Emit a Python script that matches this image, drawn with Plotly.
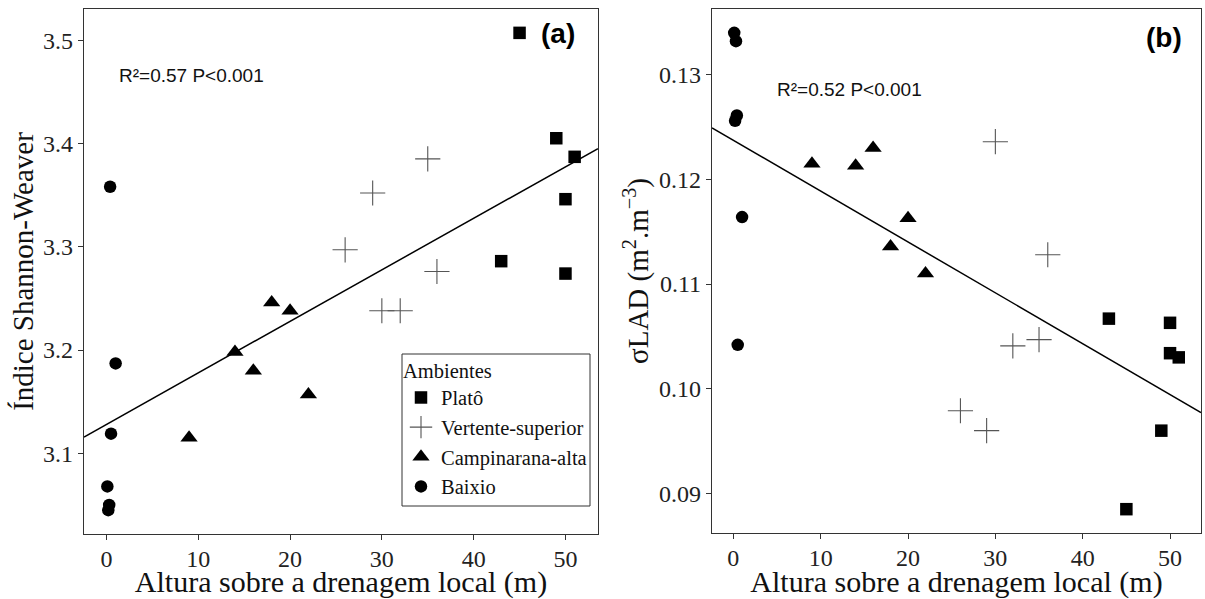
import numpy as np
import plotly.graph_objects as go

# ---------------- data ----------------
ambientes = ["Platô", "Vertente-superior", "Campinarana-alta", "Baixio"]

# altura sobre a drenagem local (m), per ambiente
plato_x = [45, 49, 51, 50, 43, 50]
vert_x = [35, 29, 26, 36, 30, 32]
camp_x = [18, 20, 14, 16, 22, 9]
baix_x = [0.4, 1.0, 0.5, 0.1, 0.3, 0.2]

# panel (a): Índice Shannon-Weaver
plato_h = [3.507, 3.405, 3.387, 3.346, 3.286, 3.274]
vert_h = [3.385, 3.352, 3.297, 3.276, 3.238, 3.238]
camp_h = [3.246, 3.238, 3.198, 3.180, 3.157, 3.115]
baix_h = [3.358, 3.187, 3.119, 3.068, 3.050, 3.045]

# panel (b): sigma LAD (m2.m-3)
plato_s = [0.0885, 0.0960, 0.1030, 0.1063, 0.1067, 0.1034]
vert_s = [0.1047, 0.0960, 0.0979, 0.1128, 0.1236, 0.1041]
camp_s = [0.1136, 0.1163, 0.1213, 0.1230, 0.1110, 0.1215]
baix_s = [0.1261, 0.1164, 0.1042, 0.1340, 0.1332, 0.1256]

x_ticks = [0, 10, 20, 30, 40, 50]
h_ticks = [3.1, 3.2, 3.3, 3.4, 3.5]
s_ticks = [0.09, 0.10, 0.11, 0.12, 0.13]

stats_a = "R²=0.57 P<0.001"
stats_b = "R²=0.52 P<0.001"

# ---------------- styling ----------------
SERIF = "Liberation Serif"
SANS = "Liberation Sans"
AXC = "#333333"

styles = {
    "Platô": dict(symbol="square", size=12.5, color="black", line=dict(width=0)),
    "Vertente-superior": dict(symbol="cross-thin", size=18, color="#555555",
                              line=dict(width=1.1, color="#555555")),
    "Campinarana-alta": dict(symbol="triangle-up", size=15, color="black", line=dict(width=0)),
    "Baixio": dict(symbol="circle", size=12.5, color="black", line=dict(width=0)),
}

xs = [plato_x, vert_x, camp_x, baix_x]
hs = [plato_h, vert_h, camp_h, baix_h]
ss = [plato_s, vert_s, camp_s, baix_s]

fig = go.Figure()

for name, x, h, s in zip(ambientes, xs, hs, ss):
    fig.add_trace(go.Scatter(x=x, y=h, mode="markers", name=name, marker=styles[name],
                             xaxis="x", yaxis="y", legendgroup=name, showlegend=True))
    fig.add_trace(go.Scatter(x=x, y=s, mode="markers", name=name, marker=styles[name],
                             xaxis="x2", yaxis="y2", legendgroup=name, showlegend=False))


def expanded(vals, f=0.05):
    lo, hi = min(vals), max(vals)
    d = (hi - lo) * f
    return [lo - d, hi + d]


all_x = sum(xs, [])
all_h = sum(hs, [])
all_s = sum(ss, [])
xr = expanded(all_x)
hr = expanded(all_h)
sr = expanded(all_s)

# linear fits (drawn across the full x range)
for yy, xa, ya in [(all_h, "x", "y"), (all_s, "x2", "y2")]:
    b, a = np.polyfit(all_x, yy, 1)
    lx = np.array(xr)
    fig.add_trace(go.Scatter(x=lx, y=a + b * lx, mode="lines", showlegend=False,
                             line=dict(color="black", width=1.5), xaxis=xa, yaxis=ya,
                             hoverinfo="skip"))

W, H = 1205, 599
axis_common = dict(showline=True, linecolor=AXC, linewidth=1.2, mirror=True,
                   ticks="outside", ticklen=5, tickcolor=AXC, tickwidth=1.2,
                   showgrid=False, zeroline=False,
                   tickfont=dict(family=SERIF, size=24, color="#222222"))

xtitle_font = dict(family=SERIF, size=30, color="#111111")
ytitle_font = dict(family=SERIF, size=29, color="#111111")

xaxis_extra = dict(ticklabelstandoff=-2)

fig.update_layout(
    width=W, height=H,
    margin=dict(l=0, r=0, t=0, b=0),
    paper_bgcolor="white", plot_bgcolor="white",
    xaxis=dict(domain=[84 / W, 598 / W], range=xr, tickvals=x_ticks, anchor="y",
               title=dict(text="Altura sobre a drenagem local (m)", standoff=4, font=xtitle_font),
               **xaxis_extra, **axis_common),
    yaxis=dict(domain=[1 - 534 / H, 1 - 9 / H], range=hr, tickvals=h_ticks, anchor="x",
               tickformat=".1f",
               title=dict(text="Índice Shannon-Weaver", standoff=0, font=ytitle_font),
               **axis_common),
    xaxis2=dict(domain=[712 / W, 1201 / W], range=xr, tickvals=x_ticks, anchor="y2",
                title=dict(text="Altura sobre a drenagem local (m)", standoff=4, font=xtitle_font),
                **xaxis_extra, **axis_common),
    yaxis2=dict(domain=[1 - 533 / H, 1 - 9 / H], range=sr, tickvals=s_ticks, anchor="x2",
                tickformat=".2f",
                title=dict(text="σLAD (m<sup>2</sup>.m<sup>−3</sup>)", standoff=1, font=ytitle_font),
                **axis_common),
    legend=dict(x=401 / W, y=1 - 351 / H, xanchor="left", yanchor="top",
                bgcolor="rgba(0,0,0,0)", borderwidth=0,
                title=dict(text="Ambientes", font=dict(family=SERIF, size=20.5, color="#111111")),
                font=dict(family=SERIF, size=20.5, color="#111111"),
                itemwidth=30, tracegroupgap=0),
    showlegend=True,
)

# legend frame
fig.add_shape(type="rect", xref="paper", yref="paper",
              x0=402 / W, x1=590 / W, y0=1 - 506 / H, y1=1 - 354 / H,
              line=dict(color=AXC, width=1), fillcolor="white", layer="above")

fig.add_annotation(x=1.17, y=3.4655, xref="x", yref="y", text=stats_a, showarrow=False,
                   xanchor="left", yanchor="middle",
                   font=dict(family=SANS, size=19, color="#111111"))
fig.add_annotation(x=4.76, y=0.12855, xref="x2", yref="y2", text=stats_b, showarrow=False,
                   xanchor="left", yanchor="middle",
                   font=dict(family=SANS, size=19, color="#111111"))
fig.add_annotation(x=51.3, y=3.506, xref="x", yref="y", text="<b>(a)</b>", showarrow=False,
                   xanchor="right", yanchor="middle",
                   font=dict(family=SANS, size=28, color="black"))
fig.add_annotation(x=51.6, y=0.1336, xref="x2", yref="y2", text="<b>(b)</b>", showarrow=False,
                   xanchor="right", yanchor="middle",
                   font=dict(family=SANS, size=28, color="black"))

fig.write_html("out.html")
